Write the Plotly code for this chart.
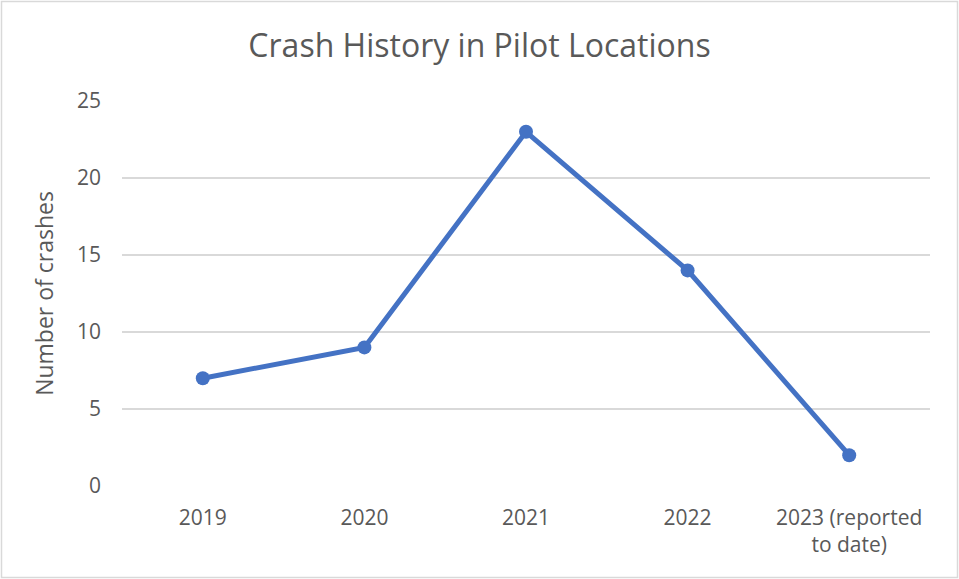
import plotly.graph_objects as go

categories = ["2019", "2020", "2021", "2022", "2023 (reported<br>to date)"]
crashes = [7, 9, 23, 14, 2]
y_ticks = [0, 5, 10, 15, 20, 25]

W, H = 959, 579
ml, mr, mt, mb = 122, 29, 101, 93
pw, ph = W - ml - mr, H - mt - mb

fig = go.Figure(go.Scatter(
    x=categories, y=crashes, mode="lines+markers",
    line=dict(color="#4472C4", width=5),
    marker=dict(color="#4472C4", size=14),
))

font = "Open Sans, Noto Sans, sans-serif"
fig.update_layout(
    width=W, height=H,
    margin=dict(l=ml, r=mr, t=mt, b=mb),
    paper_bgcolor="white", plot_bgcolor="white",
    showlegend=False,
    title=dict(text="Crash History in Pilot Locations", x=0.5, xanchor="center",
               y=1 - 46 / H, yanchor="middle",
               font=dict(family=font, size=32, color="#595959")),
    font=dict(family=font, color="#595959"),
    xaxis=dict(type="category", range=[-0.5, 4.5], showgrid=False,
               showline=False, zeroline=False, ticks="", ticklabelstandoff=17,
               tickfont=dict(size=21, color="#595959")),
    yaxis=dict(range=[0, 25], tickvals=y_ticks, showgrid=True,
               gridcolor="#D9D9D9", gridwidth=1.5, zeroline=False,
               showline=False, ticks="", ticklen=0, ticklabelstandoff=20,
               tickfont=dict(size=21, color="#595959")),
    shapes=[dict(type="rect", xref="paper", yref="paper",
                 x0=(1.5 - ml) / pw, x1=(957.5 - ml) / pw,
                 y0=-(H - 1.5 - mt - ph) / ph, y1=1 + (mt - 1.5) / ph,
                 line=dict(color="#D9D9D9", width=1.5), layer="below")],
)
fig.update_yaxes(title=dict(text="Number of crashes", standoff=16,
                            font=dict(size=23, color="#595959")))

fig.write_html("out.html", config={"displayModeBar": False},
               post_script="document.body.style.margin='0';")
